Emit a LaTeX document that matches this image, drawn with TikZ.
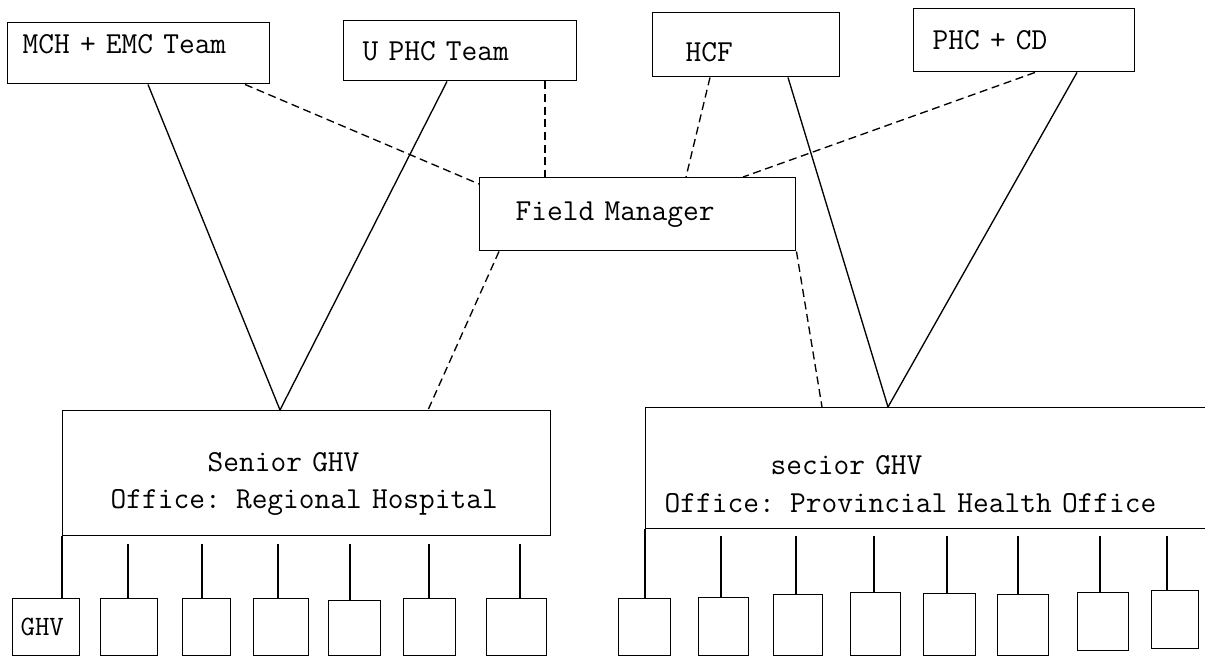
\documentclass[tikz,border=0pt]{standalone}
\tikzset{
  lbox/.style={draw, line width=1.1pt, rectangle, anchor=north west, inner ysep=0pt, align=left, font=\ttfamily\fontsize{22.9}{24}\selectfont},
  sbox/.style={draw, line width=1.1pt, rectangle, anchor=north west, inner sep=0pt, font=\ttfamily\fontsize{21}{24}\selectfont},
  solidline/.style={line width=1pt},
  dashline/.style={line width=1pt, dash pattern=on 6pt off 3.5pt},
  drop/.style={line width=1.1pt},
}
\begin{document}
\begin{tikzpicture}[x=0.75pt, y=-0.75pt]
\useasboundingbox (0,0) rectangle (1205,658);

% top row
\node[lbox, minimum width=196.5pt, minimum height=45.75pt, inner xsep=11.25pt, text width=174pt] (mch) at (7,22) {\rule[-14pt]{0pt}{1pt}MCH + EMC Team};
\node[lbox, minimum width=174.75pt, minimum height=45pt, inner xsep=14.25pt, text width=146.25pt] (uphc) at (343,20) {U PHC Team};
\node[lbox, minimum width=140.25pt, minimum height=48pt, inner xsep=24.75pt, text width=90.75pt] (hcf) at (652,12) {\rule{0pt}{26pt}HCF};
\node[lbox, minimum width=165.75pt, minimum height=47.25pt, inner xsep=14.25pt, text width=137.25pt] (phc) at (913,8) {PHC + CD};

% field manager
\node[lbox, minimum width=237pt, minimum height=54.75pt, inner xsep=27pt, text width=183pt] (fm) at (479,177) {Field Manager};

% senior boxes
\node[lbox, minimum width=366pt, minimum height=93.75pt, inner xsep=22.5pt, text width=321pt] (lsen) at (62,410)
  {\rule{0pt}{30pt}\hspace*{86.25pt}Senior GHV\\[4pt]\hspace*{13.5pt}Office: Regional Hospital};
\node[lbox, minimum width=450pt, minimum height=90.75pt, inner xsep=14.25pt, text width=421.5pt] (rsen) at (645,407)
  {\rule{0pt}{38pt}\hspace*{79.5pt}secior GHV\\[4pt]Office: Provincial Health Office};

% bottom row, left group
\node[sbox, minimum width=50.25pt, minimum height=42.75pt] (ghv) at (12,598) {GHV\hspace*{6pt}};
\node[sbox, minimum width=42.75pt, minimum height=42.75pt] (b2) at (100,598) {};
\node[sbox, minimum width=36pt, minimum height=42.75pt] (b3) at (182,598) {};
\node[sbox, minimum width=41.25pt, minimum height=42.75pt] (b4) at (253,598) {};
\node[sbox, minimum width=39pt, minimum height=41.25pt] (b5) at (328,600) {};
\node[sbox, minimum width=39pt, minimum height=42.75pt] (b6) at (403,598) {};
\node[sbox, minimum width=45pt, minimum height=42.75pt] (b7) at (486,598) {};

% bottom row, right group
\node[sbox, minimum width=39pt, minimum height=42.75pt] (r1) at (618,598) {};
\node[sbox, minimum width=37.5pt, minimum height=43.5pt] (r2) at (698,597) {};
\node[sbox, minimum width=36.75pt, minimum height=45.75pt] (r3) at (773,594) {};
\node[sbox, minimum width=37.5pt, minimum height=47.25pt] (r4) at (850,592) {};
\node[sbox, minimum width=39pt, minimum height=46.5pt] (r5) at (923,593) {};
\node[sbox, minimum width=38.25pt, minimum height=45.75pt] (r6) at (997,594) {};
\node[sbox, minimum width=38.25pt, minimum height=43.5pt] (r7) at (1077,592) {};
\node[sbox, minimum width=35.25pt, minimum height=43.5pt] (r8) at (1151,590) {};

% solid V connectors
\draw[solidline] ([shift={(141,0)}]mch.south west) -- ([shift={(218,0)}]lsen.north west);
\draw[solidline] ([shift={(104,0)}]uphc.south west) -- ([shift={(218,0)}]lsen.north west);
\draw[solidline] ([shift={(136,0)}]hcf.south west) -- ([shift={(243,0)}]rsen.north west);
\draw[solidline] ([shift={(164,0)}]phc.south west) -- ([shift={(243,0)}]rsen.north west);

% dashed connectors to/from field manager
\draw[dashline] ([shift={(238,0)}]mch.south west) -- ([shift={(0,7)}]fm.north west);
\draw[dashline] ([shift={(202,0)}]uphc.south west) -- ([shift={(66,0)}]fm.north west);
\draw[dashline] ([shift={(58,0)}]hcf.south west) -- ([shift={(207,0)}]fm.north west);
\draw[dashline] ([shift={(122,0)}]phc.south west) -- ([shift={(264,0)}]fm.north west);
\draw[dashline] ([shift={(20,0)}]fm.south west) -- ([shift={(366,0)}]lsen.north west);
\draw[dashline] (fm.south east) -- ([shift={(177,0)}]rsen.north west);

% drops, left group
\draw[drop] (lsen.south west) -- (lsen.south west |- ghv.north);
\foreach \o/\b in {66/b2,140/b3,216/b4,288/b5,367/b6,458/b7}{
  \draw[drop] ([shift={(\o,8)}]lsen.south west) coordinate (t) -- (t |- \b.north);
}
% drops, right group
\draw[drop] (rsen.south west) -- (rsen.south west |- r1.north);
\foreach \o/\b in {76/r2,151/r3,229/r4,302/r5,373/r6,455/r7,522/r8}{
  \draw[drop] ([shift={(\o,7)}]rsen.south west) coordinate (t) -- (t |- \b.north);
}
\end{tikzpicture}
\end{document}
